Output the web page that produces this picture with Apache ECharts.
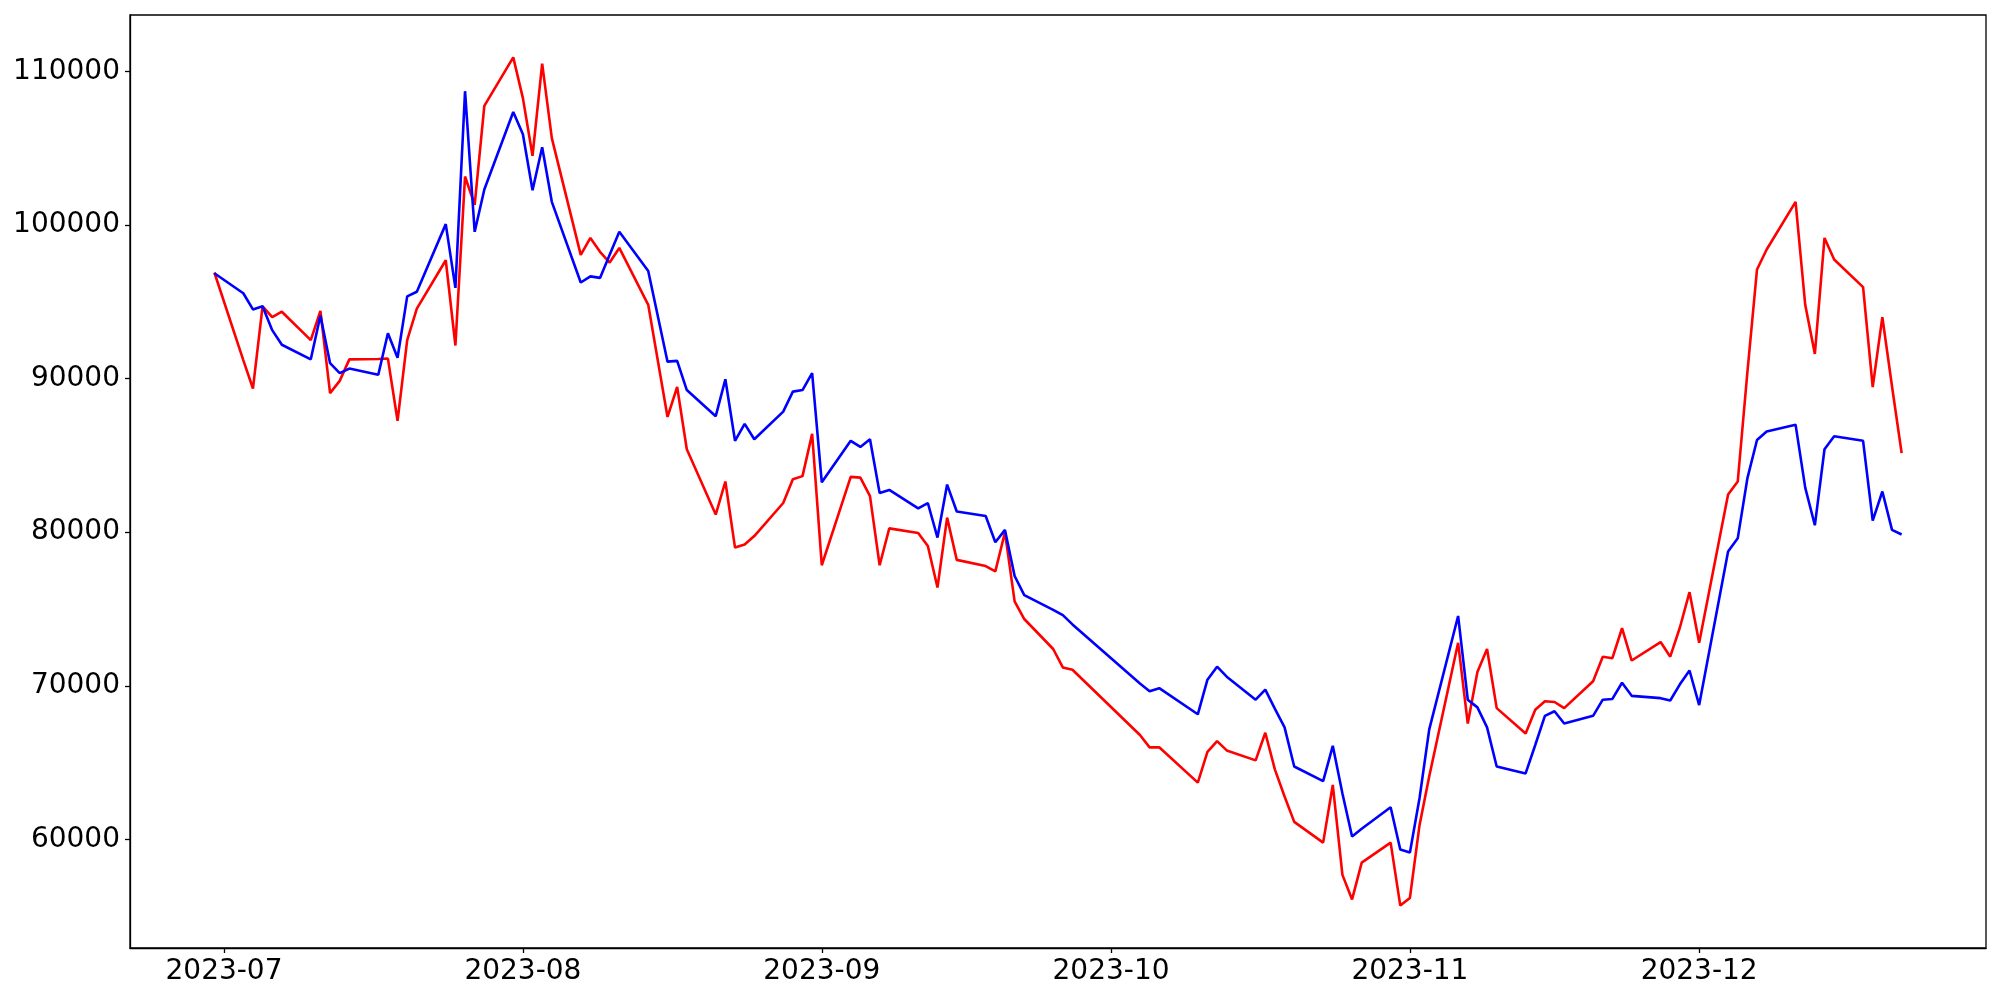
<!DOCTYPE html>
<html>
<head>
<meta charset="utf-8">
<script src="https://cdn.jsdelivr.net/npm/echarts@6/dist/echarts.min.js"></script>
<style>
  html, body { margin: 0; padding: 0; background: #fff; }
  #chart { width: 2000px; height: 1000px; }
</style>
</head>
<body>
<div id="chart"></div>
<script>
// ---- data ----
const dates = [
  '2023-06-30',
  '2023-07-03','2023-07-04','2023-07-05','2023-07-06','2023-07-07',
  '2023-07-10','2023-07-11','2023-07-12','2023-07-13','2023-07-14',
  '2023-07-17','2023-07-18','2023-07-19','2023-07-20','2023-07-21',
  '2023-07-24','2023-07-25','2023-07-26','2023-07-27','2023-07-28',
  '2023-07-31','2023-08-01','2023-08-02','2023-08-03','2023-08-04',
  '2023-08-07','2023-08-08','2023-08-09','2023-08-10','2023-08-11',
  '2023-08-14','2023-08-16','2023-08-17','2023-08-18',
  '2023-08-21','2023-08-22','2023-08-23','2023-08-24','2023-08-25',
  '2023-08-28','2023-08-29','2023-08-30','2023-08-31','2023-09-01',
  '2023-09-04','2023-09-05','2023-09-06','2023-09-07','2023-09-08',
  '2023-09-11','2023-09-12','2023-09-13','2023-09-14','2023-09-15',
  '2023-09-18','2023-09-19','2023-09-20','2023-09-21','2023-09-22',
  '2023-09-25','2023-09-26','2023-09-27',
  '2023-10-04','2023-10-05','2023-10-06',
  '2023-10-10','2023-10-11','2023-10-12','2023-10-13',
  '2023-10-16','2023-10-17','2023-10-18','2023-10-19','2023-10-20',
  '2023-10-23','2023-10-24','2023-10-25','2023-10-26','2023-10-27',
  '2023-10-30','2023-10-31','2023-11-01','2023-11-02','2023-11-03',
  '2023-11-06','2023-11-07','2023-11-08','2023-11-09','2023-11-10',
  '2023-11-13','2023-11-14','2023-11-15','2023-11-16','2023-11-17',
  '2023-11-20','2023-11-21','2023-11-22','2023-11-23','2023-11-24',
  '2023-11-27','2023-11-28','2023-11-29','2023-11-30','2023-12-01',
  '2023-12-04','2023-12-05','2023-12-06','2023-12-07','2023-12-08',
  '2023-12-11','2023-12-12','2023-12-13','2023-12-14','2023-12-15',
  '2023-12-18','2023-12-19','2023-12-20','2023-12-21','2023-12-22'
];

const redValues = [
  96900,
  91200, 89350, 94700, 94000, 94350,
  92500, 94400, 89050, 89850, 91250,
  91270, 91300, 87250, 92500, 94550,
  97700, 92150, 103150, 101300, 107750,
  110900, 108250, 104500, 110500, 105650,
  98050, 99150, 98250, 97550, 98500,
  94800, 87500, 89450, 85400,
  81150, 83300, 79000, 79200, 79750,
  81900, 83450, 83650, 86400, 77850,
  83600, 83550, 82350, 77850, 80250,
  79950, 79100, 76400, 80950, 78200,
  77800, 77450, 80000, 75500, 74350,
  72400, 71200, 71050,
  66800, 66000, 66000,
  63700, 65700, 66400, 65800,
  65150, 66950, 64550, 62800, 61150,
  59800, 63550, 57700, 56100, 58500,
  59800, 55700, 56200, 60950, 64100,
  72800, 67550, 70900, 72400, 68550,
  66900, 68450, 69000, 68950, 68550,
  70300, 71900, 71800, 73750, 71650,
  72850, 71900, 73800, 76100, 72800,
  82450, 83300, 90400, 97100, 98400,
  101500, 94800, 91600, 99150, 97750,
  95950, 89450, 94000, 89500, 85150
];

const blueValues = [
  96850,
  95550, 94500, 94700, 93150, 92200,
  91250, 94100, 91000, 90350, 90650,
  90250, 92950, 91350, 95350, 95650,
  100050, 95900, 108700, 99550, 102300,
  107350, 105900, 102250, 105050, 101500,
  96250, 96650, 96550, 98050, 99550,
  97000, 91100, 91150, 89250,
  87550, 89950, 85950, 87050, 86050,
  87850, 89150, 89250, 90350, 83250,
  85950, 85550, 86050, 82550, 82750,
  81550, 81900, 79650, 83100, 81350,
  81050, 79350, 80150, 77150, 75900,
  74950, 74600, 74000,
  70150, 69650, 69850,
  68150, 70400, 71250, 70600,
  69100, 69750, 68500, 67300, 64750,
  63800, 66100, 63000, 60200, 60700,
  62100, 59350, 59150, 62700, 67150,
  74550, 69100, 68600, 67300, 64750,
  64300, 66150, 68050, 68350, 67550,
  68050, 69100, 69150, 70200, 69350,
  69200, 69050, 70100, 71000, 68750,
  78750, 79600, 83500, 86000, 86550,
  87000, 82900, 80450, 85400, 86250,
  85950, 80750, 82650, 80150, 79850
];

const xTickLabels = ['2023-07', '2023-08', '2023-09', '2023-10', '2023-11', '2023-12'];
const yTickValues = [60000, 70000, 80000, 90000, 100000, 110000];

// ---- helpers ----
function toTime(s) {
  const p = s.split('-').map(Number);
  return new Date(p[0], p[1] - 1, p[2] || 1).getTime();
}
function pad(n) { return (n < 10 ? '0' : '') + n; }

const times = dates.map(toTime);
const redData = times.map((t, i) => [t, redValues[i]]);
const blueData = times.map((t, i) => [t, blueValues[i]]);

// matplotlib-style 5% margins
const tMin = Math.min(...times), tMax = Math.max(...times);
const tPad = (tMax - tMin) * 0.05;
const allVals = redValues.concat(blueValues);
const vMin = Math.min(...allVals), vMax = Math.max(...allVals);
const vPad = (vMax - vMin) * 0.05;

const xTickTimes = xTickLabels.map(toTime);

const FONT = 'DejaVu Sans';

const chart = echarts.init(document.getElementById('chart'), null, { renderer: 'canvas' });
chart.setOption({
  animation: false,
  backgroundColor: '#ffffff',
  grid: {
    left: 130, right: 14, top: 15, bottom: 52,
    containLabel: false,
    show: true,
    borderColor: '#000000',
    borderWidth: 1.3,
    backgroundColor: 'transparent'
  },
  xAxis: {
    type: 'value',
    min: tMin - tPad,
    max: tMax + tPad,
    scale: true,
    splitLine: { show: false },
    axisLine: { show: true, onZero: false, lineStyle: { color: '#000', width: 1.3 } },
    axisTick: {
      show: true, inside: false, length: 5,
      lineStyle: { color: '#000', width: 1.3 },
      customValues: xTickTimes
    },
    axisLabel: {
      show: true,
      customValues: xTickTimes,
      margin: 10,
      color: '#000',
      fontFamily: FONT,
      fontSize: 28,
      formatter: function (v) {
        const d = new Date(v);
        return d.getFullYear() + '-' + pad(d.getMonth() + 1);
      }
    }
  },
  yAxis: {
    type: 'value',
    min: vMin - vPad,
    max: vMax + vPad,
    scale: true,
    splitLine: { show: false },
    axisLine: { show: true, onZero: false, lineStyle: { color: '#000', width: 1.3 } },
    axisTick: {
      show: true, inside: false, length: 5,
      lineStyle: { color: '#000', width: 1.3 },
      customValues: yTickValues
    },
    axisLabel: {
      show: true,
      customValues: yTickValues,
      margin: 10,
      color: '#000',
      fontFamily: FONT,
      fontSize: 28,
      formatter: function (v) { return String(Math.round(v)); }
    }
  },
  series: [
    {
      name: 'Red',
      type: 'line',
      data: redData,
      showSymbol: false,
      lineStyle: { color: '#ff0000', width: 2.6 },
      itemStyle: { color: '#ff0000' },
      z: 2
    },
    {
      name: 'Blue',
      type: 'line',
      data: blueData,
      showSymbol: false,
      lineStyle: { color: '#0000ff', width: 2.6 },
      itemStyle: { color: '#0000ff' },
      z: 3
    }
  ]
});
</script>
</body>
</html>
